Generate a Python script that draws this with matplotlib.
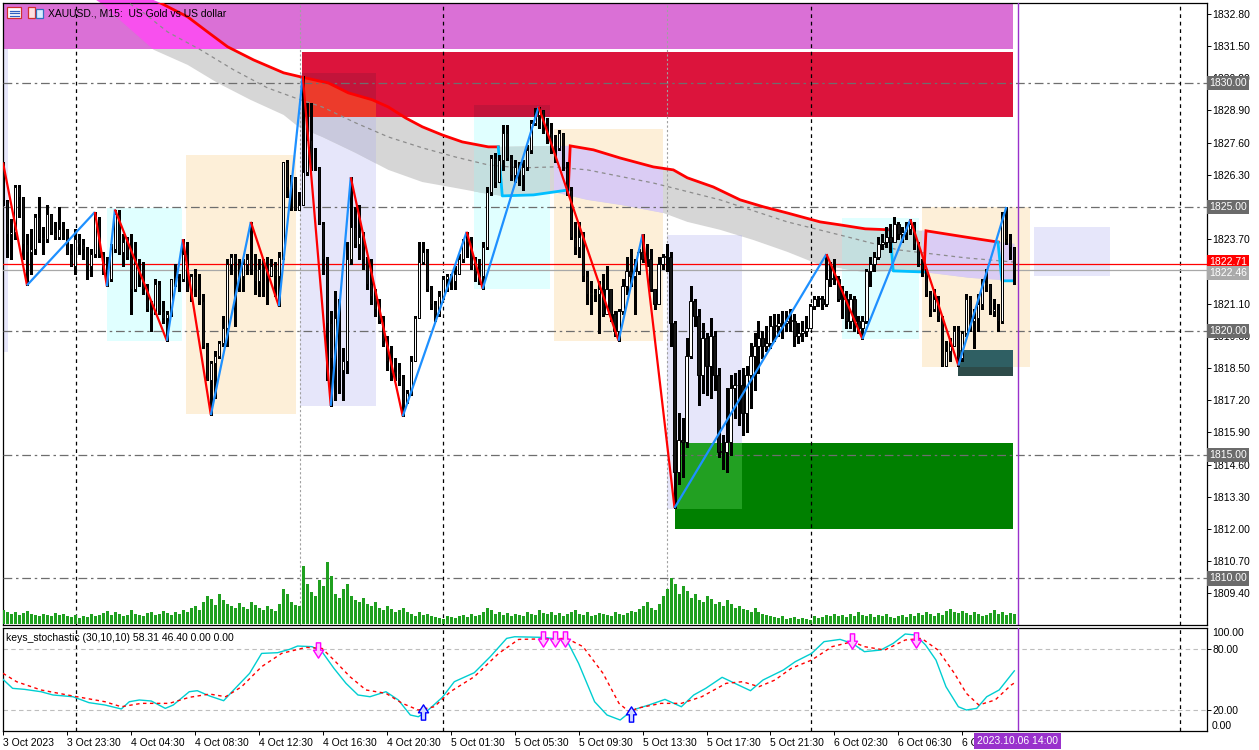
#
# Imports
#
import numpy as np
import matplotlib
matplotlib.use("Agg")
from matplotlib import pyplot as plt
from matplotlib.patches import Rectangle, Polygon
from matplotlib.path import Path
import matplotlib.transforms as mtransforms

plt.rcParams['font.family'] = ['Liberation Sans', 'DejaVu Sans']
FS = 7.5

#
# Data (XAUUSD M15, 3-6 Oct 2023)
#
first_open = 1826.7
close = [
    1825.3, 1823.9, 1824.0, 1825.8, 1825.4, 1823.5, 1823.2, 1823.3, 1824.6, 1823.7, 1823.7, 1824.7, 1824.0, 1823.8, 1824.1, 1824.1,
    1823.1, 1822.6, 1823.7, 1823.5, 1823.3, 1822.6, 1823.1, 1824.5, 1823.1, 1822.5, 1822.1, 1823.3, 1824.7, 1823.2, 1823.6, 1823.0,
    1821.7, 1822.7, 1822.5, 1821.7, 1820.9, 1820.7, 1821.9, 1820.8, 1820.5, 1820.7, 1822.1, 1822.1, 1822.1, 1823.1, 1821.6, 1822.2,
    1821.7, 1821.2, 1819.4, 1818.0, 1818.7, 1819.0, 1819.5, 1820.1, 1822.7, 1823.0, 1822.8, 1822.2, 1822.7, 1822.9, 1822.5, 1822.0,
    1822.5, 1822.5, 1822.2, 1822.6, 1822.2, 1823.0, 1826.8, 1825.8, 1826.2, 1824.9, 1825.1, 1826.4, 1827.7, 1826.6, 1826.6, 1824.3,
    1822.9, 1820.3, 1818.9, 1820.5, 1818.4, 1818.8, 1822.9, 1824.2, 1823.5, 1823.8, 1822.9, 1821.9, 1821.4, 1820.9, 1820.4, 1819.6,
    1818.8, 1818.3, 1818.3, 1818.1, 1817.2, 1817.5, 1818.8, 1820.5, 1822.8, 1823.2, 1821.7, 1821.1, 1820.7, 1821.4, 1822.1, 1822.2,
    1822.0, 1822.3, 1822.9, 1823.7, 1823.6, 1822.6, 1822.3, 1822.2, 1823.4, 1825.6, 1827.0, 1826.0, 1826.9, 1828.0, 1827.0, 1826.3,
    1826.6, 1826.3, 1826.6, 1827.3, 1828.4, 1828.7, 1828.9, 1828.3, 1828.0, 1827.4, 1827.4, 1828.0, 1826.6, 1825.7, 1823.8, 1823.4,
    1823.8, 1822.2, 1821.5, 1821.5, 1821.5, 1821.7, 1820.7, 1821.7, 1820.7, 1820.0, 1820.8, 1821.8, 1822.4, 1822.2, 1822.4, 1823.2,
    1822.9, 1822.9, 1821.7, 1821.1, 1822.7, 1823.0, 1823.0, 1820.3, 1814.3, 1815.6, 1815.5, 1819.0, 1821.2, 1820.6, 1818.2, 1819.7,
    1818.6, 1819.8, 1818.2, 1815.1, 1815.1, 1815.5, 1817.7, 1817.8, 1817.8, 1816.7, 1818.2, 1819.0, 1819.4, 1819.7, 1819.4, 1819.5,
    1820.2, 1820.2, 1820.3, 1820.3, 1820.4, 1820.4, 1819.8, 1819.9, 1820.0, 1820.1, 1821.0, 1821.3, 1821.3, 1821.1, 1822.1, 1822.1,
    1822.1, 1821.3, 1821.3, 1820.4, 1821.3, 1820.4, 1820.1, 1820.4, 1822.4, 1822.7, 1823.0, 1823.5, 1823.6, 1823.8, 1823.6, 1824.3,
    1823.9, 1824.0, 1824.1, 1824.3, 1823.5, 1822.7, 1822.5, 1821.5, 1820.9, 1821.3, 1820.6, 1818.6, 1819.2, 1819.4, 1820.0, 1818.9,
    1819.9, 1821.3, 1820.4, 1820.5, 1821.1, 1821.9, 1821.9, 1820.8, 1820.9, 1820.4, 1824.5, 1823.7, 1823.4, 1822.46]
high = [
    1826.8, 1825.3, 1824.5, 1825.9, 1825.9, 1825.4, 1823.9, 1824.1, 1824.7, 1825.4, 1824.2, 1825.1, 1824.7, 1824.4, 1825.0, 1824.4,
    1824.1, 1823.5, 1824.1, 1823.9, 1823.7, 1823.4, 1823.3, 1824.8, 1824.6, 1823.2, 1823.0, 1823.5, 1824.9, 1824.9, 1823.9, 1823.8,
    1823.9, 1823.6, 1822.9, 1822.8, 1821.9, 1821.2, 1822.1, 1822.0, 1821.2, 1820.8, 1822.1, 1822.7, 1822.3, 1823.7, 1823.6, 1822.3,
    1822.5, 1822.3, 1821.5, 1819.5, 1818.8, 1819.2, 1819.6, 1820.6, 1822.9, 1823.1, 1823.1, 1822.9, 1822.9, 1823.1, 1824.4, 1823.1,
    1822.9, 1822.9, 1823.0, 1822.9, 1822.8, 1823.2, 1826.8, 1826.9, 1826.3, 1825.8, 1825.6, 1830.3, 1829.2, 1829.2, 1827.4, 1826.6,
    1824.4, 1823.0, 1820.8, 1821.6, 1821.3, 1819.3, 1823.6, 1826.2, 1825.0, 1825.1, 1824.0, 1823.0, 1822.9, 1821.7, 1821.3, 1820.6,
    1819.8, 1819.4, 1818.9, 1818.7, 1818.2, 1817.6, 1819.0, 1820.6, 1823.6, 1823.6, 1823.3, 1821.8, 1821.2, 1821.6, 1822.2, 1822.3,
    1822.3, 1822.6, 1823.1, 1823.7, 1824.0, 1823.8, 1823.0, 1822.9, 1823.6, 1825.8, 1827.1, 1827.2, 1827.1, 1828.3, 1828.3, 1827.1,
    1826.9, 1826.8, 1826.9, 1827.5, 1828.5, 1829.0, 1829.05, 1828.9, 1828.6, 1828.4, 1827.9, 1828.1, 1828.0, 1826.8, 1825.8, 1824.4,
    1824.4, 1824.0, 1822.4, 1822.0, 1821.7, 1822.0, 1822.3, 1822.6, 1821.7, 1820.8, 1820.9, 1822.1, 1823.0, 1823.3, 1822.9, 1823.3,
    1823.9, 1823.5, 1823.3, 1821.7, 1823.0, 1823.1, 1823.5, 1823.2, 1820.4, 1816.7, 1816.5, 1819.7, 1821.8, 1821.3, 1820.9, 1820.3,
    1819.9, 1820.5, 1820.0, 1818.5, 1815.8, 1817.7, 1818.2, 1818.3, 1818.4, 1818.5, 1818.6, 1819.5, 1819.9, 1820.4, 1820.0, 1820.2,
    1820.6, 1820.7, 1820.7, 1820.8, 1820.8, 1820.9, 1820.7, 1820.3, 1820.4, 1820.6, 1821.1, 1821.4, 1821.4, 1821.4, 1823.1, 1822.8,
    1822.9, 1822.2, 1821.8, 1821.6, 1821.5, 1821.4, 1820.6, 1820.6, 1822.5, 1823.0, 1823.2, 1823.8, 1823.9, 1824.2, 1824.3, 1824.6,
    1824.4, 1824.2, 1824.4, 1824.5, 1824.4, 1823.6, 1822.9, 1822.5, 1821.6, 1821.7, 1821.4, 1820.3, 1819.6, 1819.7, 1820.2, 1820.2,
    1820.0, 1821.5, 1821.4, 1820.9, 1821.5, 1822.1, 1822.5, 1821.8, 1821.3, 1821.1, 1824.8, 1825.0, 1823.9, 1823.4]
low = [
    1825.1, 1823.0, 1822.9, 1823.7, 1824.6, 1822.9, 1821.84, 1822.3, 1823.1, 1823.6, 1823.1, 1823.6, 1823.9, 1823.7, 1823.7, 1823.7,
    1823.1, 1822.6, 1822.3, 1823.1, 1822.9, 1822.1, 1822.2, 1823.0, 1823.0, 1822.3, 1821.8, 1822.0, 1823.2, 1823.1, 1822.6, 1822.9,
    1820.7, 1821.6, 1821.8, 1821.5, 1820.8, 1820.0, 1820.8, 1820.7, 1820.3, 1819.6, 1820.6, 1821.8, 1821.6, 1822.0, 1821.6, 1821.2,
    1821.4, 1821.1, 1819.3, 1818.0, 1816.6, 1817.3, 1818.9, 1819.4, 1819.4, 1822.3, 1820.2, 1821.6, 1821.6, 1822.3, 1822.3, 1821.5,
    1821.4, 1821.4, 1821.1, 1822.2, 1821.4, 1821.0, 1822.9, 1825.4, 1824.9, 1824.9, 1824.9, 1825.1, 1826.3, 1826.5, 1826.5, 1824.3,
    1822.3, 1818.0, 1816.97, 1817.2, 1817.5, 1817.2, 1818.3, 1822.7, 1823.4, 1822.9, 1822.5, 1821.7, 1821.1, 1820.6, 1820.3, 1819.4,
    1818.4, 1818.0, 1818.0, 1817.8, 1816.55, 1817.1, 1817.4, 1818.8, 1820.5, 1822.7, 1821.6, 1820.9, 1820.4, 1820.6, 1821.3, 1821.6,
    1821.7, 1821.7, 1822.3, 1822.8, 1823.0, 1822.5, 1822.0, 1821.9, 1821.7, 1823.3, 1825.5, 1825.8, 1826.1, 1826.5, 1826.9, 1826.1,
    1826.0, 1825.9, 1825.7, 1826.5, 1827.2, 1828.3, 1828.2, 1828.0, 1827.6, 1827.2, 1826.8, 1827.3, 1826.5, 1825.5, 1823.7, 1823.1,
    1823.0, 1822.0, 1821.1, 1820.7, 1821.2, 1819.9, 1820.6, 1821.1, 1820.4, 1819.8, 1819.6, 1820.7, 1821.5, 1821.8, 1820.7, 1822.3,
    1822.8, 1822.6, 1821.6, 1820.9, 1821.1, 1822.5, 1822.4, 1819.4, 1812.85, 1813.8, 1814.1, 1815.3, 1818.9, 1820.2, 1817.0, 1817.5,
    1817.4, 1817.3, 1817.6, 1814.9, 1814.4, 1814.3, 1815.0, 1816.5, 1816.2, 1815.8, 1815.9, 1816.9, 1817.6, 1818.3, 1818.9, 1819.2,
    1819.3, 1819.6, 1819.8, 1819.7, 1820.0, 1820.0, 1819.4, 1819.5, 1819.6, 1819.8, 1820.2, 1820.9, 1821.0, 1820.9, 1821.0, 1821.8,
    1821.9, 1821.2, 1820.5, 1820.1, 1820.1, 1820.0, 1819.9, 1819.67, 1820.3, 1821.8, 1822.4, 1822.9, 1823.3, 1823.4, 1823.2, 1823.6,
    1823.7, 1823.6, 1823.7, 1823.9, 1823.3, 1822.6, 1822.2, 1821.4, 1820.6, 1820.8, 1820.4, 1818.6, 1818.6, 1818.8, 1819.4, 1818.6,
    1818.8, 1819.8, 1820.0, 1819.3, 1820.0, 1820.9, 1821.6, 1820.7, 1820.6, 1820.0, 1820.3, 1823.5, 1822.9, 1821.9]
tick_volume = [
    14, 12, 10, 12, 9, 11, 13, 10, 9, 8, 10, 9, 8, 11, 9, 10,
    8, 7, 9, 6, 8, 7, 10, 8, 9, 11, 13, 9, 12, 10, 8, 9,
    14, 10, 9, 8, 11, 12, 9, 10, 13, 11, 9, 12, 10, 14, 12, 16,
    18, 14, 22, 28, 25, 19, 30, 24, 20, 18, 16, 21, 17, 15, 22, 19,
    16, 14, 18, 15, 13, 20, 35, 30, 22, 19, 18, 58, 40, 32, 28, 44,
    38, 62, 48, 30, 26, 35, 40, 28, 24, 22, 26, 20, 18, 22, 16, 14,
    18, 15, 12, 14, 16, 12, 10, 8, 12, 9, 10, 8, 7, 6, 5, 8,
    7, 6, 8, 9, 7, 10, 8, 9, 12, 16, 14, 10, 12, 9, 11, 8,
    10, 9, 8, 12, 10, 9, 14, 11, 10, 12, 9, 11, 8, 10, 12, 14,
    10, 9, 12, 8, 9, 11, 10, 9, 8, 12, 10, 9, 11, 13, 12, 15,
    18, 22, 16, 14, 20, 28, 35, 46, 40, 30, 38, 33, 26, 30, 24, 22,
    28, 25, 20, 22, 18, 24, 20, 16, 18, 15, 14, 12, 16, 12, 10, 9,
    8, 7, 6, 8, 5, 6, 7, 5, 6, 5, 4, 8, 6, 7, 9, 8,
    10, 8, 9, 7, 10, 8, 12, 9, 8, 10, 7, 9, 8, 10, 7, 6,
    8, 9, 7, 10, 8, 11, 9, 12, 10, 8, 11, 9, 13, 15, 12, 11,
    13, 11, 9, 12, 10, 8, 9, 11, 14, 10, 12, 9, 11, 10]

# zigzag pivots (bar index, price)
zz_bars = [0, 6, 23, 26, 28, 41, 45, 52, 62, 69, 75, 82, 87, 100, 116, 120, 134, 154, 160, 168, 206, 215, 227, 239, 251]
zz_vals = [1826.8, 1821.84, 1824.8, 1821.8, 1824.9, 1819.6, 1823.7, 1816.6, 1824.4, 1821.0, 1830.3, 1816.97, 1826.2,
           1816.55, 1824.0, 1821.7, 1829.05, 1819.6, 1823.9, 1812.85, 1823.1, 1819.67, 1824.5, 1818.6, 1825.0]

# moving average cloud
up_bars = [0, 20, 39.4, 46.2, 51.2, 56.2, 62.7, 70.2, 74.4, 81.4, 86.4, 92.4, 96.4, 100.7, 104.9, 109.9, 114.9, 121.4, 123.9,
           132.0, 141.9, 147.7, 154.4, 162.7, 167.7, 171.2, 177.7, 184.4, 190.2, 196.2, 204.4, 209.4, 215.7, 221.9, 226.0,
           230.9, 240.7, 248.7, 253.0]
up_vals = [1836.0, 1834.6, 1833.24, 1832.68, 1832.07, 1831.47, 1830.94, 1830.42, 1830.26, 1830.01, 1829.61, 1829.33, 1829.04,
           1828.60, 1828.24, 1827.91, 1827.63, 1827.43, 1827.43, 1827.45, 1827.47, 1827.31, 1826.98, 1826.62, 1826.50, 1826.18,
           1825.81, 1825.29, 1825.01, 1824.76, 1824.40, 1824.28, 1824.12, 1824.08, 1824.06, 1824.04, 1823.79, 1823.59, 1823.51]
lo_bars = [0, 15, 24.4, 37.7, 46.2, 53.7, 61.9, 70.2, 73.9, 79.9, 88.2, 96.4, 104.9, 113.2, 119.9, 124.9, 132.7, 137.7, 146.2,
           154.4, 165.2, 171.2, 179.4, 187.7, 196.2, 204.4, 215.2, 222.7, 229.9, 241.9, 253.0]
lo_vals = [1835.5, 1834.3, 1833.24, 1831.35, 1830.74, 1830.01, 1829.33, 1828.72, 1828.24, 1827.83, 1827.19, 1826.50, 1826.01,
           1825.77, 1825.57, 1825.45, 1825.49, 1825.61, 1825.29, 1825.09, 1824.76, 1824.40, 1824.08, 1823.67, 1823.19, 1822.66,
           1822.38, 1822.42, 1822.38, 1822.14, 1822.02]
mid_bars = [30.2, 35.2, 41.2, 49.4, 57.7, 66.2, 73.7, 79.9, 88.2, 96.4, 104.9, 113.2, 121.4, 129.4, 137.7, 146.2, 162.7, 179.4,
            196.2, 209.4, 223.9, 240.7, 252.7]
mid_vals = [1833.37, 1832.84, 1832.07, 1831.35, 1830.54, 1829.81, 1829.37, 1829.04, 1828.40, 1827.83, 1827.39, 1827.02,
            1826.70, 1826.58, 1826.62, 1826.50, 1825.97, 1825.29, 1824.40, 1823.87, 1823.27, 1822.95, 1822.78]
red_ranges = [(0, 123.9), (141.9, 221.9), (230.9, 249.0)]
cyan_segs = [([123.9, 124.9, 132.7, 141.4], [1827.43, 1825.45, 1825.49, 1825.69]),
             ([221.9, 222.7, 229.9, 230.4], [1824.08, 1822.42, 1822.38, 1822.38]),
             ([248.9, 249.9, 253.0], [1823.58, 1822.02, 1822.02])]

# zones: (bar from, bar to, top price, bottom price)
cyan_zones = [(25.9, 44.9, 1824.96, 1819.59), (117.9, 136.9, 1829.12, 1821.69), (209.9, 229.2, 1824.56, 1819.67)]
papaya_zones = [(45.9, 73.2, 1827.11, 1816.64), (137.9, 165.2, 1828.16, 1819.59), (229.9, 256.9, 1825.01, 1818.54)]
lavender_zones = [(-1.0, 1.2, 1834.0, 1819.15), (74.2, 93.2, 1830.42, 1816.97), (166.2, 184.9, 1823.87, 1812.81),
                  (257.9, 276.9, 1824.20, 1822.22)]
band_zone = (0.0, 252.7, 1833.5, 1831.39)
supply_zone = (74.9, 252.7, 1831.27, 1828.64)
demand_zone = (168.2, 252.7, 1815.47, 1812.00)
small_zone = (238.9, 252.7, 1819.23, 1818.18)

level_lines = [1830.0, 1825.0, 1820.0, 1815.0, 1810.0]
bid_price = 1822.46
ask_price = 1822.71
price_ticks = [1809.40, 1810.70, 1812.00, 1813.30, 1814.60, 1815.90, 1817.20, 1818.50, 1819.80, 1821.10, 1822.40,
               1823.70, 1825.00, 1826.30, 1827.60, 1828.90, 1830.20, 1831.50, 1832.80]
hidden_ticks = [1822.40, 1825.00]   # covered by the price boxes

# stochastic (bar, value)
k_bars = [0, 2.4, 5.4, 9.5, 12.5, 17.5, 21.5, 25.5, 29.6, 31.6, 34.1, 37.1, 40.6, 42.6, 46.6, 48.6, 51.7, 55.2, 57.7, 61.7,
          64.7, 68.7, 71.7, 73.7, 77.3, 79.8, 82.8, 85.8, 88.8, 91.8, 95.8, 98.9, 101.9, 103.9, 105.9, 109.9, 112.9, 117.9,
          121.9, 126, 128, 135, 141, 144, 148, 151.1, 154.4, 157.5, 161.6, 165.6, 169.7, 172.8, 175.8, 179.9, 184, 187,
          190.1, 195.2, 198.2, 202.3, 205.4, 209.4, 212.5, 215.5, 219.6, 222.7, 225.7, 228.3, 230.8, 233.4, 235.9, 239,
          241, 243.6, 246.1, 249.2, 253]
k_vals = [50.0, 41.2, 40.2, 37.9, 34.7, 33.0, 27.2, 24.9, 21.0, 28.1, 29.8, 28.8, 21.6, 24.9, 37.9, 38.9, 33.7, 29.1, 39.6,
          55.9, 75.4, 76.1, 79.4, 82.6, 82.0, 77.1, 60.7, 46.1, 34.7, 33.0, 37.9, 29.8, 15.1, 13.4, 18.3, 32.4, 47.7, 56.5,
          72.2, 90.1, 91.7, 91.1, 88.5, 65.6, 28.1, 15.1, 10.2, 20.0, 24.9, 30.4, 23.2, 34.7, 41.2, 52.0, 44.4, 38.9,
          49.3, 59.1, 67.3, 75.4, 86.9, 89.1, 85.2, 77.1, 78.7, 85.2, 94.4, 93.4, 83.6, 68.9, 42.8, 23.2,
          20.0, 21.6, 33.0, 39.6, 58.31]
d_bars = [0, 3.4, 9.5, 17.5, 25.5, 29.6, 34.6, 41.6, 46.6, 51.7, 55.7, 59.7, 64.7, 69.7, 75.8, 79.8, 82.8, 86.8, 90.8, 95.8,
          99.9, 103.9, 107.9, 111.9, 117.9, 124, 129, 141, 145.1, 150.1, 154.1, 156.9, 158.5, 164.6, 169.7, 174.8, 180.9,
          185, 189.1, 193.1, 197.2, 202.3, 207.4, 212.5, 215.5, 220.6, 225.7, 229.8, 233.9, 238, 241, 244.1, 248.2, 252.2,
          253]
d_vals = [55.9, 47.7, 39.6, 33.7, 28.1, 23.2, 26.5, 26.5, 32.4, 35.6, 33.0, 42.8, 62.4, 75.4, 81.3, 80.3, 68.9, 52.6, 39.6,
          36.3, 26.5, 20.0, 23.2, 37.9, 52.6, 75.4, 89.1, 90.1, 82.0, 55.9, 26.5, 17.5, 21.6, 26.5, 26.5, 33.0, 46.1,
          47.7, 42.8, 49.3, 60.8, 68.9, 82.0, 86.9, 82.0, 78.7, 88.5, 90.1, 78.7, 55.9, 36.3, 24.9, 29.8, 44.4, 46.4]
sell_arrows = ([78.9, 135.0, 138.0, 140.5, 212.3, 228.5], [78.7, 89.6, 89.6, 89.6, 87.9, 88.9])
buy_arrows = ([105.0, 157.0], [18.3, 15.6])

time_ticks = [0, 16, 32, 48, 64, 80, 96, 112, 128, 144, 160, 176, 192, 208, 224, 240]
time_labels = ['3 Oct 2023', '3 Oct 23:30', '4 Oct 04:30', '4 Oct 08:30', '4 Oct 12:30', '4 Oct 16:30', '4 Oct 20:30',
               '5 Oct 01:30', '5 Oct 05:30', '5 Oct 09:30', '5 Oct 13:30', '5 Oct 17:30', '5 Oct 21:30', '6 Oct 02:30',
               '6 Oct 06:30', '6 Oct 10:30']
day_breaks = [18.15, 110.15, 202.1, 294.4]
session_marks = [74.4, 166.2]
cursor_bar = 254
cursor_label = '2023.10.06 14:00'

#
# Figure layout (pixel boxes)
#
W, H = 1259, 750
fig = plt.figure(figsize=(W / 100, H / 100), dpi=100)
fig.patch.set_facecolor('white')


def px_box(x0, y0, x1, y1):
    return [x0 / W, 1 - y1 / H, (x1 - x0) / W, (y1 - y0) / H]


ax = fig.add_axes(px_box(3, 3, 1207, 625))
axs = fig.add_axes(px_box(3, 628, 1207, 731), sharex=ax)
axv = fig.add_axes(px_box(3, 545, 1207, 624), sharex=ax)

ax.set_xlim(0.175, 301.2)
ax.set_ylim(1808.12, 1833.24)
axs.set_ylim(-0.55, 100.26)
axv.set_ylim(0, 79)

bars = np.arange(len(close))
close = np.array(close)
op = np.r_[first_open, close[:-1]]
hi = np.maximum(np.array(high), np.maximum(op, close))
lo = np.minimum(np.array(low), np.minimum(op, close))


def rect(z, **kw):
    b0, b1, top, bot = z
    return Rectangle((b0, bot), b1 - b0, top - bot, **kw)


def overlap(a, b):
    return (max(a[0], b[0]), min(a[1], b[1]), min(a[2], b[2]), max(a[3], b[3]))


cloud_x = np.r_[up_bars, lo_bars[::-1]]
cloud_y = np.r_[up_vals, lo_vals[::-1]]


def cloud(color, z, clip=None):
    p = Polygon(np.c_[cloud_x, cloud_y], closed=True, fc=color, ec='none', zorder=z)
    ax.add_patch(p)
    if clip is not None:
        p.set_clip_path(rect(clip, transform=ax.transData))
    return p


# zones
for z in cyan_zones:
    ax.add_patch(rect(z, fc='#E0FFFF', ec='none', zorder=1))
for z in papaya_zones:
    ax.add_patch(rect(z, fc='#FDEFD8', ec='none', zorder=1))
for z in lavender_zones:
    ax.add_patch(rect(z, fc='#E6E6FA', ec='none', zorder=1))

# cloud and its overlaps with the zones
cloud('#D6D6D6', 1.5)
for z in cyan_zones:
    cloud('#C4DFDF', 1.6, z)
for z in papaya_zones:
    cloud('#DACCF4', 1.6, z)
for z in lavender_zones:
    cloud('#C9C9DD', 1.6, z)

# supply / demand rectangles
ax.add_patch(rect(band_zone, fc='#DA70D6', ec='none', zorder=2))
ax.add_patch(rect(supply_zone, fc='#DC143C', ec='none', zorder=2))
ax.add_patch(rect(demand_zone, fc='#008000', ec='none', zorder=2))
cloud('#F850EE', 2.1, band_zone)
for z in lavender_zones[1:2] + cyan_zones[1:2]:
    ax.add_patch(rect(overlap(supply_zone, z), fc='#C2143A', ec='none', zorder=2.1))
cloud('#EC3B2B', 2.2, overlap(supply_zone, lavender_zones[1]))
ax.add_patch(rect(overlap(demand_zone, lavender_zones[2]), fc='#22A022', ec='none', zorder=2.1))
ax.add_patch(rect(small_zone, fc='#2D4B49', ec='none', zorder=2.1))
ax.add_patch(rect(overlap(small_zone, papaya_zones[2]), fc='#2F5F63', ec='none', zorder=2.2))

# grid / level lines
for lv in level_lines:
    ax.axhline(lv, color='#6E6E6E', lw=0.9, ls=(0, (7, 3, 2, 3)), zorder=3)
for b in day_breaks:
    ax.axvline(b, color='black', lw=0.9, ls=(0, (3, 3)), zorder=3)
    axs.axvline(b, color='black', lw=0.9, ls=(0, (3, 3)), zorder=3)
for b in session_marks:
    ax.axvline(b, color='#A0A0A0', lw=0.8, ls=(0, (2, 2)), zorder=3)

# cloud lines
ax.plot(mid_bars, mid_vals, color='#8C8C8C', lw=0.9, ls=(0, (3, 3)), zorder=3.2)
ub = np.array(up_bars)
uv = np.array(up_vals)
for i, (b0, b1) in enumerate(red_ranges):
    m = (ub >= b0) & (ub <= b1)
    xs, ys = list(ub[m]), list(uv[m])
    if i > 0:
        xs = [cyan_segs[i - 1][0][-1]] + xs
        ys = [cyan_segs[i - 1][1][-1]] + ys
    if b1 > xs[-1]:
        xs.append(b1)
        ys.append(np.interp(b1, ub, uv))
    ax.plot(xs, ys, color='#FF0000', lw=2.0, zorder=3.5, solid_joinstyle='miter')
for xs, ys in cyan_segs:
    ax.plot(xs, ys, color='#00BFFF', lw=2.0, zorder=3.5)

# bid / ask
ax.axhline(ask_price, color='#FF0000', lw=0.9, zorder=3.3)
ax.axhline(bid_price, color='#A8A8A8', lw=0.9, zorder=3.3)

# candles
ax.vlines(bars, lo, hi, color='black', lw=0.8, zorder=5, antialiased=False)
bull = close >= op
ax.bar(bars, np.maximum(np.abs(close - op), 0.03), bottom=np.minimum(op, close), width=0.55,
       color=np.where(bull, 'white', '#151515'), edgecolor='black', linewidth=0.7, zorder=5.1)

# zigzag
for i in range(len(zz_bars) - 1):
    col = '#FF0000' if zz_vals[i + 1] < zz_vals[i] else '#1E90FF'
    ax.plot(zz_bars[i:i + 2], zz_vals[i:i + 2], color=col, lw=1.6, zorder=6, solid_capstyle='butt')

# cursor line
ax.axvline(cursor_bar, color='#9932CC', lw=1, zorder=6)
axs.axvline(cursor_bar, color='#9932CC', lw=1, zorder=6)

# volumes
axv.vlines(bars, 0, tick_volume, color='#1FA01F', lw=1, antialiased=False)
axv.set_facecolor('none')
axv.axis('off')

# price axis
ax.yaxis.tick_right()
ax.set_yticks(price_ticks)
ax.set_yticklabels(['' if t in hidden_ticks else '%.2f' % t for t in price_ticks])
ax.tick_params(axis='y', direction='out', length=3, width=0.7, pad=1, labelsize=FS)
ax.tick_params(axis='x', bottom=False, labelbottom=False)
for s in ax.spines.values():
    s.set_linewidth(0.9)

trans = mtransforms.blended_transform_factory(ax.transAxes, ax.transData)
for lv in level_lines:
    ax.text(1.0017, lv, '%.2f' % lv, transform=trans, ha='left', va='center', fontsize=FS, color='white',
            bbox=dict(boxstyle='square,pad=0.2', fc='#6B6B6B', ec='none'), zorder=10, clip_on=False)
ax.text(1.0017, ask_price + 0.05, '%.2f' % ask_price, transform=trans, ha='left', va='center', fontsize=FS,
        color='white', bbox=dict(boxstyle='square,pad=0.2', fc='#FF0000', ec='none'), zorder=10, clip_on=False)
ax.text(1.0017, bid_price - 0.12, '%.2f' % bid_price, transform=trans, ha='left', va='center', fontsize=FS,
        color='white', bbox=dict(boxstyle='square,pad=0.2', fc='#AAAAAA', ec='none'), zorder=11, clip_on=False)

# stochastic panel
axs.axhline(80, color='#BEBEBE', lw=0.8, ls=(0, (4, 3)))
axs.axhline(20, color='#BEBEBE', lw=0.8, ls=(0, (4, 3)))
axs.plot(k_bars, k_vals, color='#00CED1', lw=1.0, zorder=4)
axs.plot(d_bars, d_vals, color='#FF0000', lw=1.0, ls=(0, (2.5, 2.5)), zorder=4)

down_arrow = Path([(-0.14, 0.5), (0.14, 0.5), (0.14, 0.02), (0.33, 0.02), (0.0, -0.5), (-0.33, 0.02),
                   (-0.14, 0.02), (-0.14, 0.5)], closed=True)
up_arrow = Path([(x, -y) for x, y in down_arrow.vertices], closed=True)
axs.plot(sell_arrows[0], sell_arrows[1], ls='none', marker=down_arrow, ms=11, mfc='#FFC8FF', mec='#FF00FF',
         mew=1.0, zorder=5)
axs.plot(buy_arrows[0], buy_arrows[1], ls='none', marker=up_arrow, ms=11, mfc='#D0D8FF', mec='#0000FF',
         mew=1.0, zorder=5)

axs.yaxis.tick_right()
axs.set_yticks([80, 20])
axs.set_yticklabels(['80.00', '20.00'])
axs.tick_params(axis='y', direction='out', length=3, width=0.7, pad=1, labelsize=FS)
strans = mtransforms.blended_transform_factory(axs.transAxes, axs.transData)
axs.text(1.004, 95.3, '100.00', transform=strans, ha='left', va='center', fontsize=FS, clip_on=False)
axs.text(1.004, 4.3, '0.00', transform=strans, ha='left', va='center', fontsize=FS, clip_on=False)
axs.set_xticks(time_ticks)
axs.set_xticklabels(time_labels, ha='left')
axs.tick_params(axis='x', direction='out', length=3, width=0.7, pad=2, labelsize=FS)
for s in axs.spines.values():
    s.set_linewidth(0.9)
axs.text(0.0025, 0.9, 'keys_stochastic (30,10,10) 58.31 46.40 0.00 0.00', transform=axs.transAxes,
         ha='left', va='center', fontsize=FS, zorder=6)

# cursor time label
fig.text(1017.5 / W, 1 - 741 / H, cursor_label, ha='center', va='center', fontsize=FS, color='white',
         bbox=dict(boxstyle='square,pad=0.25', fc='#9932CC', ec='none'), zorder=20)

# title with the two small icons
fig.patches.append(Rectangle((7 / W, 1 - 18 / H), 14 / W, 11 / H, transform=fig.transFigure,
                             fc='white', ec='#D03030', lw=0.9))
for yy in (10.5, 13, 15.5):
    fig.lines.append(plt.Line2D([9.5 / W, 19 / W], [1 - yy / H, 1 - yy / H], transform=fig.transFigure,
                                color='#3060C0', lw=0.9))
fig.patches.append(Rectangle((28 / W, 1 - 18 / H), 7 / W, 11 / H, transform=fig.transFigure,
                             fc='#FDE0E0', ec='#D03030', lw=0.9))
fig.patches.append(Rectangle((36 / W, 1 - 18 / H), 7 / W, 9 / H, transform=fig.transFigure,
                             fc='#D8ECFF', ec='#3070C0', lw=0.9))
fig.text(48 / W, 1 - 13 / H, 'XAUUSD., M15:  US Gold vs US dollar', ha='left', va='center', fontsize=FS, zorder=20)

fig.savefig('out.png', dpi=100)
